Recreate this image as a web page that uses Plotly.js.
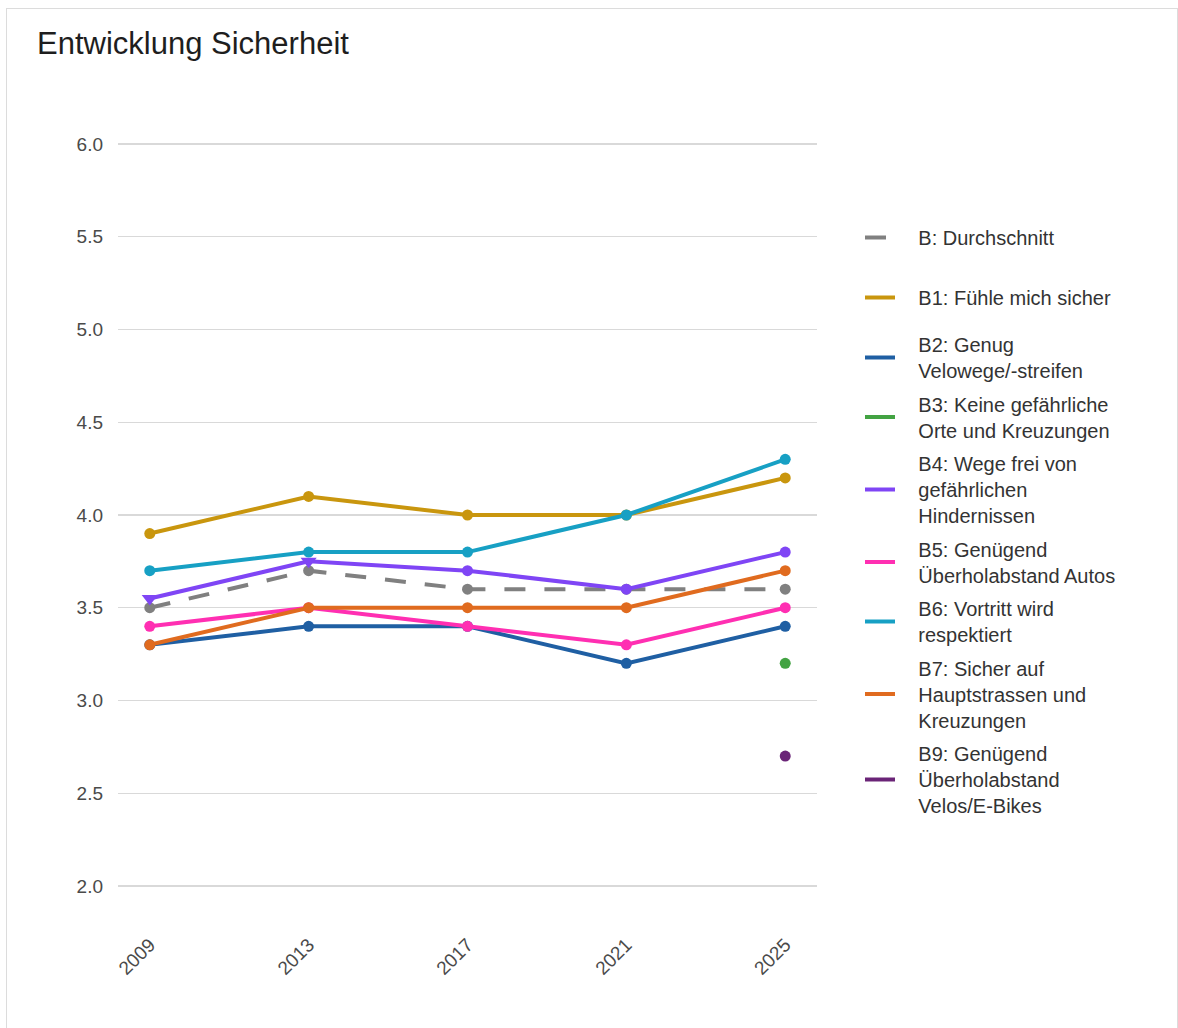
<!DOCTYPE html>
<html>
<head>
<meta charset="utf-8">
<script src="https://cdn.plot.ly/plotly-3.0.1.min.js"></script>
<style>
  html, body { margin: 0; padding: 0; background: #fff; }
  #chart { position: absolute; left: 0; top: 0; width: 1178px; height: 1028px; }
  #frame { position: absolute; left: 6px; top: 8px; width: 1172px; height: 1030px;
           border: 1px solid #dcdcdc; pointer-events: none; box-sizing: border-box; }
</style>
</head>
<body>
<div id="chart"></div>
<div id="frame"></div>
<script>
const years = [2009, 2013, 2017, 2021, 2025];

const seriesNames = [
  "B: Durchschnitt",
  "B1: Fühle mich sicher",
  "B2: Genug<br>Velowege/-streifen",
  "B3: Keine gefährliche<br>Orte und Kreuzungen",
  "B4: Wege frei von<br>gefährlichen<br>Hindernissen",
  "B5: Genügend<br>Überholabstand Autos",
  "B6: Vortritt wird<br>respektiert",
  "B7: Sicher auf<br>Hauptstrassen und<br>Kreuzungen",
  "B9: Genügend<br>Überholabstand<br>Velos/E-Bikes"
];

const valB  = [3.5, 3.7, 3.6, 3.6, 3.6];
const valB1 = [3.9, 4.1, 4.0, 4.0, 4.2];
const valB2 = [3.3, 3.4, 3.4, 3.2, 3.4];
const valB3 = [null, null, null, null, 3.2];
const valB4 = [3.55, 3.75, 3.7, 3.6, 3.8];
const valB5 = [3.4, 3.5, 3.4, 3.3, 3.5];
const valB6 = [3.7, 3.8, 3.8, 4.0, 4.3];
const valB7 = [3.3, 3.5, 3.5, 3.5, 3.7];
const valB9 = [null, null, null, null, 2.7];

const yTicks = [2.0, 2.5, 3.0, 3.5, 4.0, 4.5, 5.0, 5.5, 6.0];

const allValues = [valB, valB1, valB2, valB3, valB4, valB5, valB6, valB7, valB9];
const colors = ["#808080", "#c9960e", "#1f5fa3", "#43a343", "#7f45f5", "#ff2fb2", "#17a0c4", "#e06b1f", "#6a2477"];
const dashes = ["21px,19px", "solid", "solid", "solid", "solid", "solid", "solid", "solid", "solid"];
const b4Symbols = ["triangle-down", "triangle-down", "circle", "circle", "circle"];

// pad legend text so it starts further right of the short legend line
const pad = "\u00a0\u00a0\u00a0\u200a";
const padName = s => s.split("<br>").map(l => pad + l).join("<br>");

const traces = [];
allValues.forEach((vals, i) => {
  const legendId = i < 2 ? "legend" : "legend2";
  traces.push({
    x: years, y: vals, type: "scatter", mode: "lines",
    name: padName(seriesNames[i]), legend: legendId, legendgroup: "g" + i,
    line: { color: colors[i], width: 4, dash: dashes[i] },
    hoverinfo: "skip"
  });
  traces.push({
    x: years, y: vals, type: "scatter", mode: "markers",
    name: seriesNames[i], showlegend: false, legendgroup: "g" + i,
    marker: { color: colors[i], size: i === 4 ? [14, 14, 11, 11, 11] : 11,
              symbol: i === 4 ? b4Symbols : "circle",
              opacity: 1, line: { width: 0 } },
    hoverinfo: "skip"
  });
});

const font = "'Liberation Sans', Arial, Helvetica, sans-serif";

const layout = {
  width: 1178, height: 1028,
  paper_bgcolor: "rgba(0,0,0,0)", plot_bgcolor: "#fff",
  margin: { l: 118, r: 361, t: 107, b: 105 },
  font: { family: font, color: "#444" },
  title: { text: "Entwicklung Sicherheit", x: 37 / 1178, xanchor: "left", xref: "container",
           y: 1 - 43 / 1028, yanchor: "middle", yref: "container",
           font: { size: 31, color: "#1e1e1e", family: font } },
  xaxis: {
    range: [2008.2, 2025.8], tickvals: years, ticktext: years.map(String),
    tickangle: -45, showgrid: false, zeroline: false, showline: false,
    ticks: "", ticklabelstandoff: 6, tickfont: { size: 19, color: "#4a4a4a" }
  },
  yaxis: {
    range: [1.8, 6.2], tickvals: yTicks, ticktext: yTicks.map(v => v.toFixed(1)),
    showgrid: true, gridcolor: "#d9d9d9", gridwidth: 1.3, zeroline: false, showline: false,
    ticks: "", ticklabelstandoff: 14, tickfont: { size: 19, color: "#4a4a4a" }
  },
  legend: {
    x: (860 - 118) / 699, xanchor: "left", y: (923 - 218) / 816, yanchor: "top",
    font: { size: 20, color: "#333", family: font }, tracegroupgap: 31,
    bgcolor: "rgba(0,0,0,0)"
  },
  legend2: {
    x: (860 - 118) / 699, xanchor: "left", y: (923 - 325) / 816, yanchor: "top",
    font: { size: 20, color: "#333", family: font }, tracegroupgap: 4.5,
    bgcolor: "rgba(0,0,0,0)"
  },
  showlegend: true
};

Plotly.newPlot("chart", traces, layout, { displayModeBar: false, staticPlot: true });
</script>
</body>
</html>
